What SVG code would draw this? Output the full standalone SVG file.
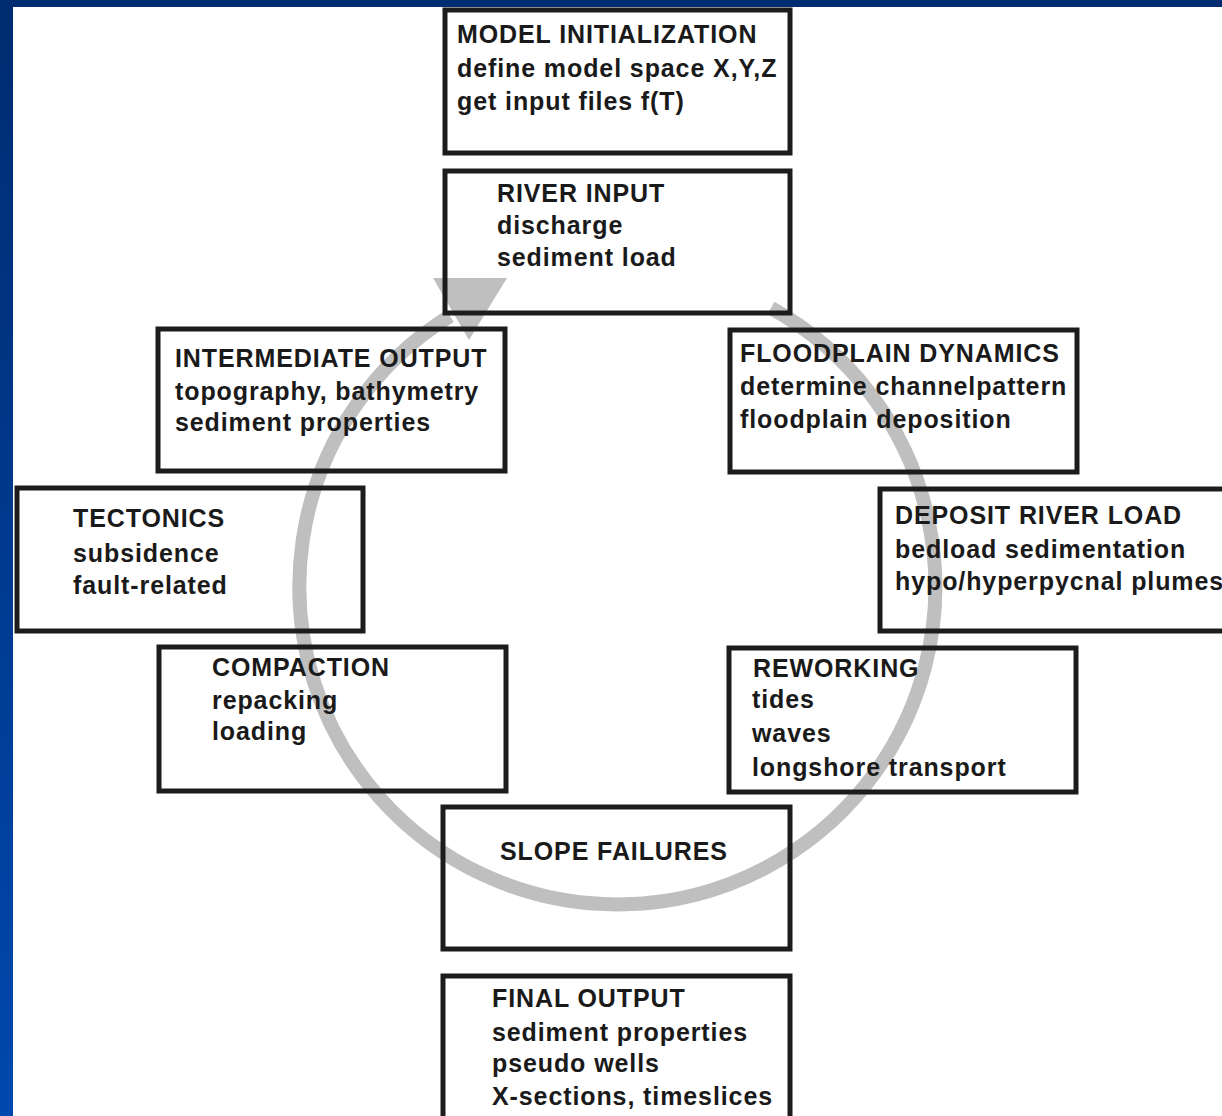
<svg xmlns="http://www.w3.org/2000/svg" width="1222" height="1116" viewBox="0 0 1222 1116">
<defs>
<linearGradient id="side" x1="0" y1="0" x2="0" y2="1">
<stop offset="0" stop-color="#002c70"/>
<stop offset="1" stop-color="#0048ae"/>
</linearGradient>
<style>
.box{fill:none;stroke:#1c1c1c;stroke-width:5}
.t{font-family:"Liberation Sans",Arial,sans-serif;font-size:25px;font-weight:bold;fill:#1a1a1a;letter-spacing:0.9px}
.cyc{fill:none;stroke:#bfbfbf;stroke-width:14}
</style>
</defs>
<rect x="0" y="0" width="1222" height="1116" fill="#ffffff"/>
<rect x="0" y="0" width="1222" height="7" fill="#002d72"/>
<rect x="0" y="0" width="13" height="1116" fill="url(#side)"/>
<g id="connectors">
<path class="cyc" d="M771,308 A318,318 0 1 1 450,316"/>
<polygon points="433,278 507,278 469,340" fill="#bfbfbf"/>
</g>
<g id="model-initialization">
<rect class="box" x="445" y="10" width="345" height="143"/>
<text class="t" x="457" y="43">MODEL INITIALIZATION</text>
<text class="t" x="457" y="77">define model space X,Y,Z</text>
<text class="t" x="457" y="110">get input files f(T)</text>
</g>
<g id="river-input">
<rect class="box" x="445" y="171" width="345" height="142"/>
<text class="t" x="497" y="202">RIVER INPUT</text>
<text class="t" x="497" y="234">discharge</text>
<text class="t" x="497" y="266">sediment load</text>
</g>
<g id="intermediate-output">
<rect class="box" x="158" y="329" width="347" height="142"/>
<text class="t" x="175" y="367">INTERMEDIATE OUTPUT</text>
<text class="t" x="175" y="400">topography, bathymetry</text>
<text class="t" x="175" y="431">sediment properties</text>
</g>
<g id="floodplain-dynamics">
<rect class="box" x="730" y="330" width="347" height="142"/>
<text class="t" x="740" y="362">FLOODPLAIN DYNAMICS</text>
<text class="t" x="740" y="395">determine channelpattern</text>
<text class="t" x="740" y="428">floodplain deposition</text>
</g>
<g id="tectonics">
<rect class="box" x="17" y="488" width="346" height="143"/>
<text class="t" x="73" y="527">TECTONICS</text>
<text class="t" x="73" y="562">subsidence</text>
<text class="t" x="73" y="594">fault-related</text>
</g>
<g id="deposit-river-load">
<rect class="box" x="880" y="489" width="370" height="142"/>
<text class="t" x="895" y="524">DEPOSIT RIVER LOAD</text>
<text class="t" x="895" y="558">bedload sedimentation</text>
<text class="t" x="895" y="590">hypo/hyperpycnal plumes</text>
</g>
<g id="compaction">
<rect class="box" x="159" y="647" width="347" height="144"/>
<text class="t" x="212" y="676">COMPACTION</text>
<text class="t" x="212" y="709">repacking</text>
<text class="t" x="212" y="740">loading</text>
</g>
<g id="reworking">
<rect class="box" x="729" y="648" width="347" height="144"/>
<text class="t" x="753" y="677">REWORKING</text>
<text class="t" x="752" y="708">tides</text>
<text class="t" x="752" y="742">waves</text>
<text class="t" x="752" y="776">longshore transport</text>
</g>
<g id="slope-failures">
<rect class="box" x="443" y="807" width="347" height="142"/>
<text class="t" x="500" y="860">SLOPE FAILURES</text>
</g>
<g id="final-output">
<rect class="box" x="443" y="976" width="347" height="160"/>
<text class="t" x="492" y="1007">FINAL OUTPUT</text>
<text class="t" x="492" y="1041">sediment properties</text>
<text class="t" x="492" y="1072">pseudo wells</text>
<text class="t" x="492" y="1105">X-sections, timeslices</text>
</g>
</svg>
